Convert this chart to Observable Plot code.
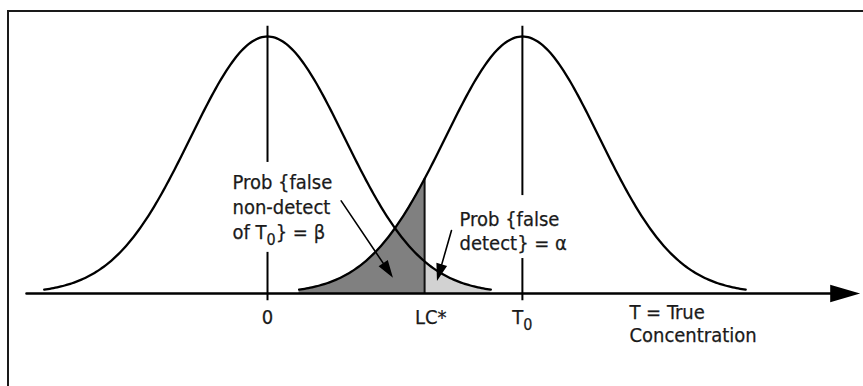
<!DOCTYPE html>
<html><head><meta charset="utf-8">
<script src="https://cdn.jsdelivr.net/npm/d3@7"></script>
<script src="https://cdn.jsdelivr.net/npm/@observablehq/plot@0.6"></script>
<style>
body{margin:0;background:#fff}
#wrap{position:relative;width:863px;height:386px;overflow:hidden;background:#fff}
#wrap svg{display:block}
#border{position:absolute;left:7px;top:10px;right:-20px;bottom:-20px;border-left:2px solid #1a1a1a;border-top:2px solid #1a1a1a;pointer-events:none}
</style></head><body><div id="wrap"><div id="border"></div></div>
<script>
// distributions (x in units of sigma)
const curveNames = ["null (T = 0)", "true (T = T0)"];
const curveMeans = [0, 3.31];
const curveSigmas = [1, 1];
const curveHalfWidth = [2.9, 2.9];
const detectionLimit = [2.04];            // LC*
const tickValues = [0, 3.31, 2.04];
const tickLabels = ["0", "T₀", "LC*"];
const tickLabelX = [0, 3.31, 2.12];
// annotation labels
const labelTexts = ["Prob {false\nnon-detect\nof T₀} = β", "Prob {false\ndetect} = α"];
const labelX = [-0.455, 2.494];
const labelY = [0.477, 0.329];
const labelLineHeight = [1.25, 1.2];
const labelBoxX1 = [-0.51, 2.44];
const labelBoxX2 = [0.89, 3.96];
const labelBoxY1 = [0.16, 0.136];
const labelBoxY2 = [0.51, 0.381];
const axisLabel = ["T = True\nConcentration"];
const axisLabelX = [4.70];
const axisLabelY = [-0.039];
// annotation arrows: tip position, length (px), rotation (deg)
const arrowTipX = [1.61, 2.21];
const arrowTipY = [0.07, 0.058];
const arrowLen = [90, 50];
const arrowRot = [146, 196];

const xDomain = [-3.13, 7.636];
const N = 240;
const pdf = (x, m, s) => Math.exp(-0.5 * ((x - m) / s) ** 2);

const curves = curveNames.flatMap((name, k) => {
  const m = curveMeans[k], s = curveSigmas[k], hw = curveHalfWidth[k] * s;
  return d3.range(N + 1).map(i => {
    const x = m - hw + (2 * hw * i) / N;
    return {name, x, y: pdf(x, m, s)};
  });
});
const LC = detectionLimit[0];
const c0 = curves.filter(d => d.name === curveNames[0]);
const c1 = curves.filter(d => d.name === curveNames[1]);
const dark = c1.filter(d => d.x <= LC).concat([{x: LC, y: pdf(LC, curveMeans[1], curveSigmas[1])}]);
const light = [{x: LC, y: pdf(LC, curveMeans[0], curveSigmas[0])}].concat(c0.filter(d => d.x >= LC));

const makeArrow = (h, w) => ({
  draw(ctx, l) {
    ctx.moveTo(0, 0);
    ctx.lineTo(0, -l + h);
    ctx.moveTo(-w, -l + h);
    ctx.lineTo(0, -l);
    ctx.lineTo(w, -l + h);
    ctx.closePath();
  }
});

const ticks = tickValues.map((v, i) => ({v, lx: tickLabelX[i], label: tickLabels[i]}));
const arrows = arrowTipX.map((x, i) => ({x, y: arrowTipY[i], len: arrowLen[i], rot: arrowRot[i]}));
const boxes = labelBoxX1.map((x1, i) => ({x1, x2: labelBoxX2[i], y1: labelBoxY1[i], y2: labelBoxY2[i]}));
const font = "'DejaVu Sans Condensed', 'DejaVu Sans', Verdana, sans-serif";
const fs = 20;
const ink = "#1a1a1a";
const textStyle = {fontSize: fs, fill: ink, stroke: ink, strokeWidth: 0.25};

const chart = Plot.plot({
  width: 863,
  height: 386,
  marginLeft: 26,
  marginRight: 8,
  marginTop: 36,
  marginBottom: 93,
  style: {fontFamily: font, background: "transparent"},
  x: {domain: xDomain, axis: null},
  y: {domain: [0, 1], axis: null},
  length: {type: "identity"},
  marks: [
    Plot.areaY(dark, {x: "x", y: "y", fill: "#808080"}),
    Plot.areaY(light, {x: "x", y: "y", fill: "#d2d2d2"}),
    Plot.ruleX([LC], {y1: 0, y2: pdf(LC, curveMeans[1], curveSigmas[1]), stroke: "#111", strokeWidth: 2}),
    Plot.line(curves, {x: "x", y: "y", z: "name", stroke: "#000", strokeWidth: 2.3}),
    Plot.ruleX([curveMeans[0], curveMeans[1]], {y1: -0.028, y2: 1.04, stroke: "#000", strokeWidth: 2}),
    Plot.rect(boxes, {x1: "x1", x2: "x2", y1: "y1", y2: "y2", fill: "white"}),
    Plot.vector([xDomain[1]], {x: d => d, y: 0, anchor: "end", rotate: 90, length: 829,
      shape: makeArrow(24, 7), stroke: "#000", fill: "#000", strokeWidth: 2.6, strokeLinejoin: "miter"}),
    Plot.vector(arrows, {x: "x", y: "y", anchor: "end", rotate: "rot", length: "len",
      shape: makeArrow(14, 4.5), stroke: "#000", fill: "#000", strokeWidth: 1.6, strokeLinejoin: "miter"}),
    Plot.text(ticks, {x: "lx", y: 0, text: "label", dy: 16, lineAnchor: "top", ...textStyle}),
    Plot.text([labelTexts[0]], {x: labelX[0], y: labelY[0], text: d => d,
      textAnchor: "start", lineAnchor: "top", lineHeight: labelLineHeight[0], ...textStyle}),
    Plot.text([labelTexts[1]], {x: labelX[1], y: labelY[1], text: d => d,
      textAnchor: "start", lineAnchor: "top", lineHeight: labelLineHeight[1], ...textStyle}),
    Plot.text(axisLabel, {x: axisLabelX[0], y: axisLabelY[0], text: d => d,
      textAnchor: "start", lineAnchor: "top", lineHeight: 1.12, ...textStyle})
  ]
});

// render "₀" as a real subscript "0"
const NS = "http://www.w3.org/2000/svg";
const walker = document.createTreeWalker(chart, NodeFilter.SHOW_TEXT);
const hits = [];
while (walker.nextNode()) if (walker.currentNode.nodeValue.includes("₀")) hits.push(walker.currentNode);
for (const node of hits) {
  const [before, after] = node.nodeValue.split("₀");
  const parent = node.parentNode;
  const sub = document.createElementNS(NS, "tspan");
  sub.setAttribute("dy", "6");
  sub.setAttribute("font-size", "16");
  sub.textContent = "0";
  parent.insertBefore(document.createTextNode(before), node);
  parent.insertBefore(sub, node);
  if (after) {
    const rest = document.createElementNS(NS, "tspan");
    rest.setAttribute("dy", "-6");
    rest.textContent = after;
    parent.insertBefore(rest, node);
  }
  parent.removeChild(node);
}
document.getElementById("wrap").prepend(chart);
</script>
</body></html>
